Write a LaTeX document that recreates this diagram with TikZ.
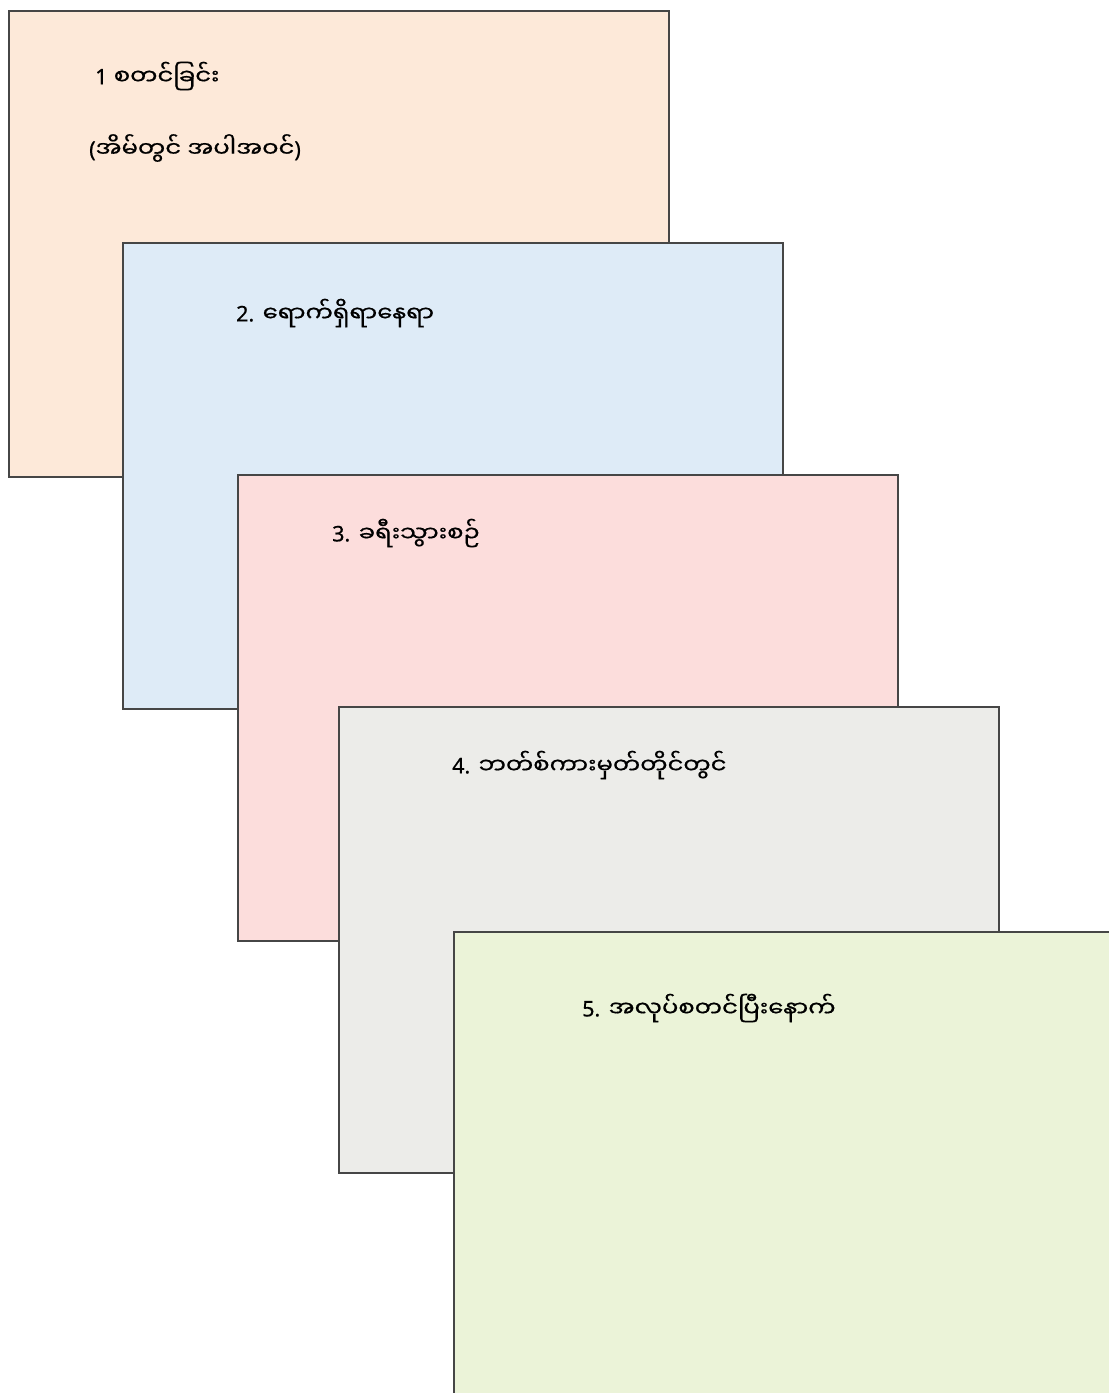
\documentclass[tikz,border=0pt]{standalone}
\usepackage{fontspec}
\newfontfamily\mmfont[Script=Myanmar,FakeStretch=1.13,FakeBold=0.6]{Noto Sans Myanmar UI}
\newfontfamily\numfont[FakeBold=0.6]{Noto Sans}
\newcommand{\nm}[1]{{\numfont #1}}
\usetikzlibrary{positioning,calc}
\definecolor{card1bg}{RGB}{253,233,217}
\definecolor{card2bg}{RGB}{222,235,247}
\definecolor{card3bg}{RGB}{252,221,220}
\definecolor{card4bg}{RGB}{236,236,233}
\definecolor{card5bg}{RGB}{235,243,216}
\definecolor{cardborder}{RGB}{70,70,70}

\begin{document}
\begin{tikzpicture}[
  x=1pt, y=-1pt,
  card/.style={
    rectangle,
    draw=cardborder,
    line width=1.7pt,
    minimum width=660pt,
    minimum height=466pt,
    anchor=north west,
    inner sep=0pt
  },
  cardlabel/.style={
    anchor=west,
    inner sep=0pt,
    font=\mmfont\fontsize{21.5}{25}\selectfont
  }
]
\useasboundingbox (0,0) rectangle (1109,1393);
\clip (0,0) rectangle (1109,1393);

% ------------------------------------------------------------------
% Stacked cards (back to front)
% ------------------------------------------------------------------
\node[card, fill=card1bg] (card1) at (8,10) {};
\node[card, fill=card2bg] (card2) at (122,242) {};
\node[card, fill=card3bg] (card3) at (237,474) {};
\node[card, fill=card4bg] (card4) at (338,706) {};
\node[card, fill=card5bg] (card5) at (453,931) {};

% ------------------------------------------------------------------
% Labels
% ------------------------------------------------------------------
\node[cardlabel] (step1) at ($(card1.north west)+(87,66)$) {\nm{1} စတင်ခြင်း};
\node[cardlabel] (step1b) at ($(card1.north west)+(81,138)$) {\nm{(}အိမ်တွင် အပါအဝင်\nm{)}};
\node[cardlabel] (step2) at ($(card2.north west)+(114,71)$) {\nm{2.} ရောက်ရှိရာနေရာ};
\node[cardlabel] (step3) at ($(card3.north west)+(95,59)$) {\nm{3.} ခရီးသွားစဉ်};
\node[cardlabel] (step4) at ($(card4.north west)+(114,59)$) {\nm{4.} ဘတ်စ်ကားမှတ်တိုင်တွင်};
\node[cardlabel] (step5) at ($(card5.north west)+(129,77)$) {\nm{5.} အလုပ်စတင်ပြီးနောက်};

\end{tikzpicture}
\end{document}
